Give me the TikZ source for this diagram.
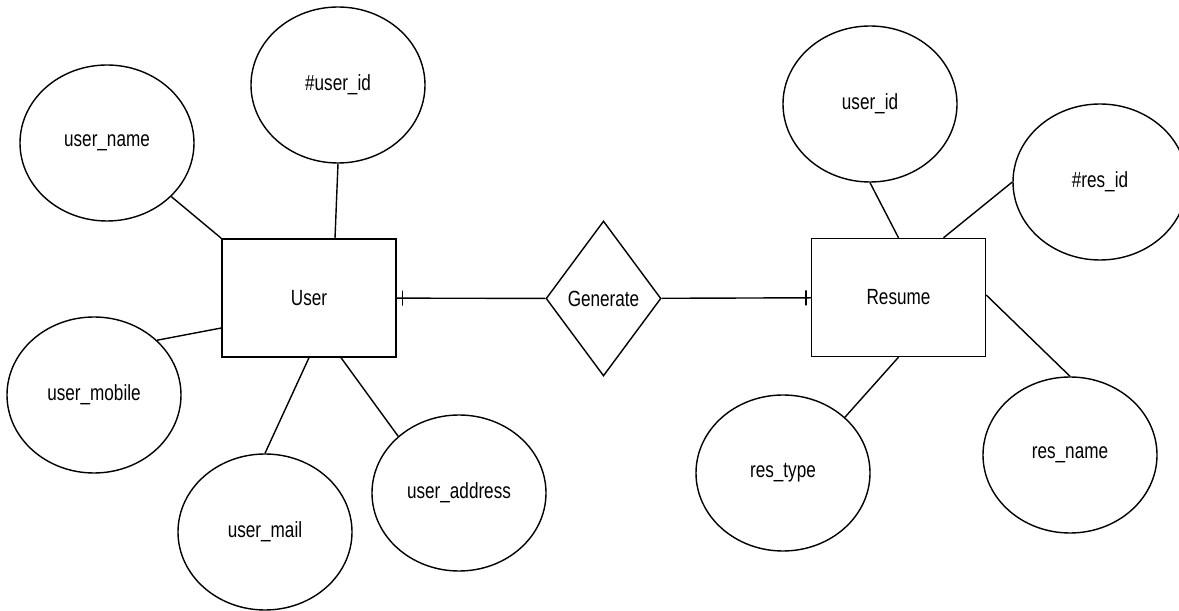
\documentclass[tikz,border=0pt]{standalone}
\usepackage{fontspec}
\setmainfont{Liberation Sans}[FakeStretch=0.78]
\usetikzlibrary{shapes.geometric}

\begin{document}
\begin{tikzpicture}[line width=0.8pt,
    entity node/.style={rectangle,draw,minimum width=3.48cm,minimum height=2.36cm,inner sep=0pt,font=\fontsize{12.5}{14}\selectfont},
    attr node/.style={ellipse,draw,minimum width=3.48cm,minimum height=3.12cm,inner sep=0pt,font=\fontsize{12.5}{14}\selectfont},
    rel node/.style={diamond,draw,aspect=0.74,minimum width=2.3cm,minimum height=3.1cm,inner sep=0pt,font=\fontsize{12.5}{14}\selectfont},
    one mark/.style={rectangle,draw,minimum width=0pt,minimum height=0.3cm,inner sep=0pt}]
    \useasboundingbox (0,0) rectangle (23.58,-12.22);

    % entities and relationship
    \node[entity node] (user) at (6.18,-5.96) {User};
    \node[rel node] (gen) at (12.07,-5.97) {Generate};
    \node[entity node] (resume) at (17.97,-5.95) {Resume};

    % user attributes
    \node[attr node] (uname) at (2.14,-2.86) {user\_name};
    \node[attr node] (uid) at (6.76,-1.70) {\#user\_id};
    \node[attr node] (umobile) at (1.88,-7.90) {user\_mobile};
    \node[attr node] (umail) at (5.30,-10.64) {user\_mail};
    \node[attr node] (uaddress) at (9.18,-9.86) {user\_address};

    % resume attributes
    \node[attr node] (ruid) at (17.40,-2.08) {user\_id};
    \node[attr node] (resid) at (22.00,-3.64) {\#res\_id};
    \node[attr node] (restype) at (15.66,-9.46) {res\_type};
    \node[attr node] (resname) at (21.40,-9.10) {res\_name};

    \path
        (user) edge node[one mark,pos=0.04]{} (gen)
        (gen) edge node[one mark,pos=0.967]{} (resume)
        (uname) edge (user.north west)
        (uid.south) edge ([xshift=0.52cm]user.north)
        (umobile.41) edge ([yshift=-0.6cm]user.west)
        (user.south) edge (umail.north)
        ([xshift=0.64cm]user.south) edge (uaddress.137)
        (ruid.south) edge (resume.north)
        (resid.west) edge ([xshift=0.9cm]resume.north)
        (resume.south) edge (restype.42)
        ([yshift=0.05cm]resume.east) edge (resname.north)
        ;
\end{tikzpicture}
\end{document}
